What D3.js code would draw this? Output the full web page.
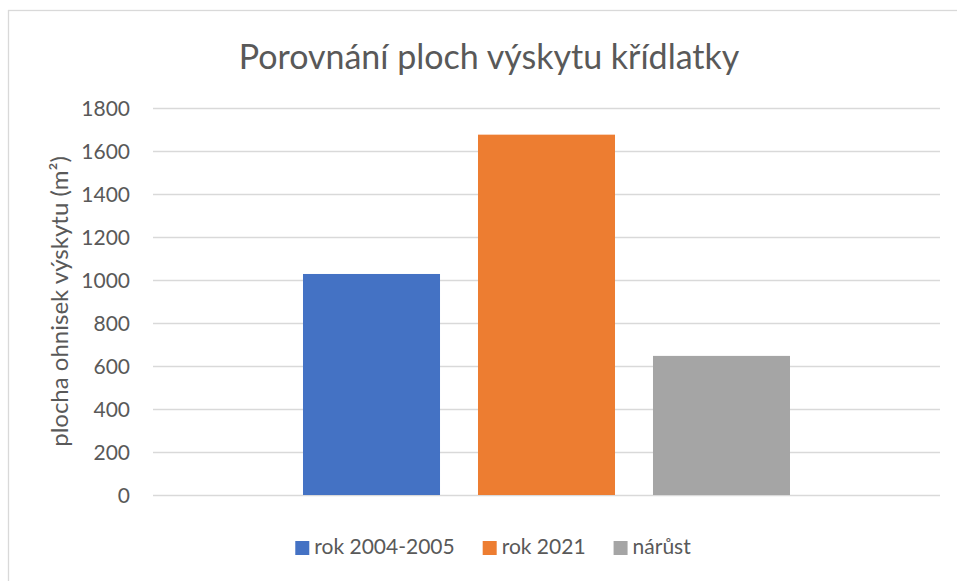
<!DOCTYPE html>
<html>
<head>
<meta charset="utf-8">
<script src="https://cdn.jsdelivr.net/npm/d3@7"></script>
<style>
    body { margin: 0; background: #fff; }
    text { font-family: Lato, 'Open Sans', sans-serif; fill: #595959; }
</style>
</head>
<body>
<div id="chart"></div>
<script>
const categories = ['']
const seriesNames = ['rok 2004-2005', 'rok 2021', 'nárůst']
const seriesValues = [1028, 1676, 647]
const seriesColors = ['#4472C4', '#ED7D31', '#A5A5A5']
const yTicks = [0, 200, 400, 600, 800, 1000, 1200, 1400, 1600, 1800]
const titleText = 'Porovnání ploch výskytu křídlatky'
const yTitleText = 'plocha ohnisek výskytu (m²)'

const width = 957
const height = 581
const margin = { top: 108, right: 17, bottom: 86, left: 153 }
const gWidth = width - margin.left - margin.right
const gHeight = height - margin.top - margin.bottom

const svg = d3.select('#chart').append('svg').attr('width', width).attr('height', height)

// chart frame
svg.append('rect')
    .attr('x', 8.5).attr('y', 10.5)
    .attr('width', 960).attr('height', 600)
    .attr('fill', '#fff').attr('stroke', '#d9d9d9').attr('stroke-width', 1.3)

svg.append('text')
    .attr('x', 489).attr('y', 69)
    .attr('text-anchor', 'middle')
    .style('font-size', '34px')
    .text(titleText)

const graph = svg.append('g').attr('transform', `translate(${margin.left}, ${margin.top})`)

const y = d3.scaleLinear().domain([0, 1800]).range([gHeight, 0])
const x0 = d3.scaleBand().domain(categories).range([0, gWidth]).paddingInner(0).paddingOuter(0.308)
const x1 = d3.scaleBand().domain(seriesNames).range([0, x0.bandwidth()]).paddingInner(0.217).paddingOuter(0)

// grid
const yAxis = d3.axisLeft(y).tickValues(yTicks).tickSize(-gWidth).tickPadding(23).tickFormat(d3.format('d'))
const gYAxis = graph.append('g').call(yAxis)
gYAxis.select('.domain').remove()
gYAxis.selectAll('line').attr('stroke', '#d9d9d9').attr('stroke-width', 1.3)
gYAxis.selectAll('text').style('font-size', '21px').attr('fill', '#595959').attr('dy', '0.36em')

// bars
const group = graph.selectAll('g.cat').data(categories).enter().append('g')
    .attr('class', 'cat')
    .attr('transform', (d) => `translate(${x0(d)}, 0)`)

group.selectAll('rect')
    .data(seriesNames.map((name, i) => ({ name, value: seriesValues[i], color: seriesColors[i] })))
    .enter()
    .append('rect')
    .attr('x', (d) => x1(d.name))
    .attr('width', x1.bandwidth())
    .attr('y', (d) => y(d.value))
    .attr('height', (d) => gHeight - y(d.value))
    .attr('fill', (d) => d.color)

// y title
svg.append('text')
    .attr('transform', `translate(68, ${margin.top + gHeight / 2}) rotate(-90)`)
    .attr('text-anchor', 'middle')
    .style('font-size', '24px')
    .text(yTitleText)

// legend
const legend = svg.append('g').attr('transform', 'translate(0, 554)')
const items = legend.selectAll('g').data(seriesNames).enter().append('g')
items.append('rect')
    .attr('y', -13).attr('width', 14).attr('height', 14)
    .attr('fill', (d, i) => seriesColors[i])
items.append('text')
    .attr('x', 19)
    .attr('y', 0)
    .style('font-size', '21px')
    .text((d) => d)

let cx = 0
const offsets = []
items.each(function () {
    offsets.push(cx)
    const w = d3.select(this).select('text').node().getComputedTextLength()
    cx += 19 + w + 28
})
const total = cx - 28
const start = 493 - total / 2
items.attr('transform', (d, i) => `translate(${start + offsets[i]}, 0)`)
</script>
</body>
</html>
